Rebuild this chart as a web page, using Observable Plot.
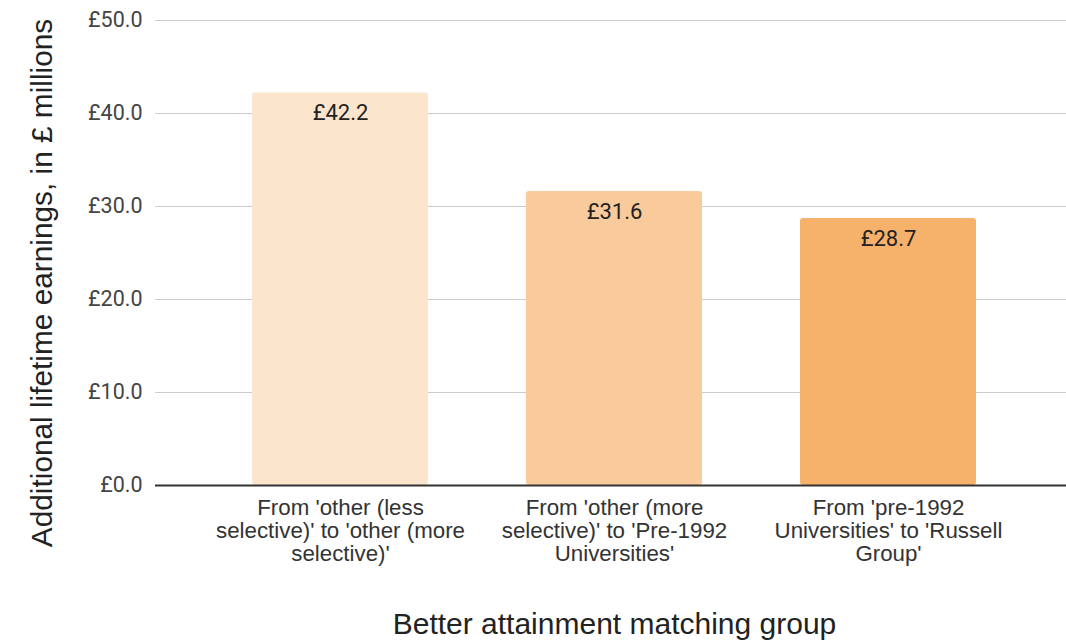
<!DOCTYPE html>
<html>
<head>
<meta charset="utf-8">
<script src="https://cdn.jsdelivr.net/npm/d3@7"></script>
<script src="https://cdn.jsdelivr.net/npm/@observablehq/plot@0.6"></script>
<style>
  html, body { margin: 0; padding: 0; background: #fff; }
  #chart svg { display: block; }
</style>
</head>
<body>
<div id="chart"></div>
<script>
const categories = [
  "From 'other (less\nselective)' to 'other (more\nselective)'",
  "From 'other (more\nselective)' to 'Pre-1992\nUniversities'",
  "From 'pre-1992\nUniversities' to 'Russell\nGroup'"
];
const values = [42.2, 31.6, 28.7];
const colors = ["#fce5cd", "#f9cb9c", "#f6b26b"];
const yTicks = [0, 10, 20, 30, 40, 50];
const yTitle = "Additional lifetime earnings, in £ millions";
const xTitle = "Better attainment matching group";

const data = categories.map((c, i) => ({category: c, value: values[i], color: colors[i]}));
const fmt = v => "£" + v.toFixed(1);

const chart = Plot.plot({
  width: 1066,
  height: 644,
  marginTop: 20,
  marginBottom: 159,
  marginLeft: 155,
  marginRight: 0,
  style: {background: "#fff", overflow: "visible"},
  x: {domain: categories, range: [155, 1073], paddingInner: 0.358, paddingOuter: 0.354, align: 0.5},
  y: {domain: [0, 50]},
  marks: [
    Plot.gridY(yTicks, {stroke: "#cccccc", strokeOpacity: 1, strokeWidth: 1.2}),
    Plot.axisY(yTicks, {
      tickSize: 0, tickPadding: 13, tickFormat: fmt, label: null,
      fontSize: 21.5, fontFamily: "Roboto", fill: "#444"
    }),
    Plot.axisX({
      tickSize: 0, tickPadding: 13, label: null, lineHeight: 1.04,
      fontSize: 22.3, fontFamily: "Liberation Sans, Arial", fill: "#333"
    }),
    Plot.barY(data, {x: "category", y: "value", fill: "color", rx: 3}),
    Plot.ruleY([0], {stroke: "#333", strokeWidth: 1.8}),
    Plot.text(data, {
      x: "category", y: "value", text: d => fmt(d.value), dy: 20,
      fontSize: 22, fontFamily: "Roboto", fill: "#222"
    }),
    Plot.text([yTitle], {
      frameAnchor: "left", textAnchor: "middle", lineAnchor: "middle", rotate: -90, dx: -113, dy: 30,
      fontSize: 29.8, fontFamily: "Liberation Sans, Arial", fill: "#222"
    }),
    Plot.text([xTitle], {
      x: () => categories[1], frameAnchor: "bottom", lineAnchor: "middle", dy: 139,
      fontSize: 30, fontFamily: "Liberation Sans, Arial", fill: "#222"
    })
  ]
});
document.getElementById("chart").appendChild(chart);
</script>
</body>
</html>
